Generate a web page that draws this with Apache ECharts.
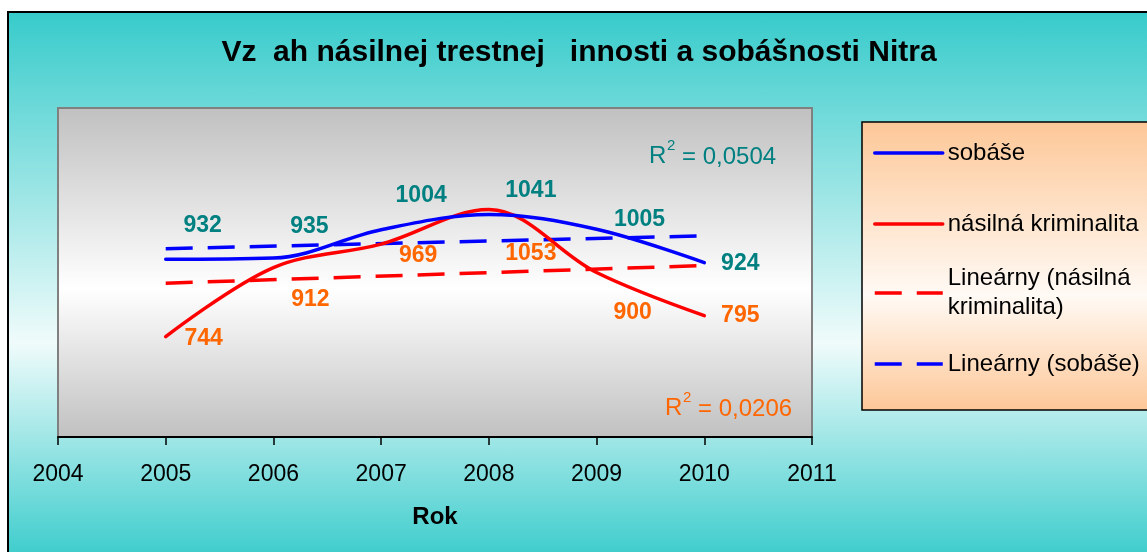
<!DOCTYPE html>
<html>
<head>
<meta charset="utf-8">
<script src="https://cdn.jsdelivr.net/npm/echarts@6/dist/echarts.min.js"></script>
<style>
html, body { margin: 0; padding: 0; background: #fff; }
#frame {
  position: absolute; left: 7px; top: 11px; width: 1150px; height: 550px;
  border-left: 2px solid #000; border-top: 2px solid #000;
  background: linear-gradient(to bottom, #38cbcb 0%, #f0fbfb 60%, #38cbcb 100%);
}
#main { position: absolute; left: 0; top: 0; width: 1147px; height: 552px; }
</style>
</head>
<body>
<div id="frame"></div>
<div id="main"></div>
<script>
// data
var years = [2005, 2006, 2007, 2008, 2009, 2010];
var sobase = [932, 935, 1004, 1041, 1005, 924];
var kriminalita = [744, 912, 969, 1053, 900, 795];
// linear trend endpoints (Excel trendlines)
var trendYears = [2005, 2010];
var trendSobase = [958, 989];
var trendKriminalita = [874, 917];
var yearTicks = [2004, 2005, 2006, 2007, 2008, 2009, 2010, 2011];
var r2Sobase = '0,0504';
var r2Kriminalita = '0,0206';

var FONT = '"Liberation Sans", Arial, sans-serif';
var TEAL = '#008080', ORANGE = '#ff6600';

// label offsets like the moved labels in the original
var offSobase = [[37, -34], [36, -31], [40, -34], [42, -24], [43, -10], [36, 1]];
var offKrim = [[38, 2], [37, 32], [37, 12], [42, 44], [36, 40], [36, 0]];

function pts(xs, ys, offs) {
  return xs.map(function (x, i) {
    var d = { value: [x, ys[i]] };
    if (offs) d.label = { offset: offs[i] };
    return d;
  });
}

function grad(c1, c2, mid) {
  return {
    type: 'linear', x: 0, y: 0, x2: 0, y2: 1,
    colorStops: [{ offset: 0, color: c1 }, { offset: mid, color: c2 }, { offset: 1, color: c1 }]
  };
}

var legendBase = {
  orient: 'vertical', left: 873, padding: 0, itemWidth: 68, itemHeight: 14,
  selectedMode: false, itemStyle: { opacity: 0 },
  lineStyle: { width: 3.5 },
  textStyle: { fontSize: 24, color: '#000', fontFamily: FONT, lineHeight: 28 }
};
function leg(name, top, extra) {
  return Object.assign({}, legendBase, { data: [name], top: top }, extra || {});
}

var myChart = echarts.init(document.getElementById('main'));
myChart.setOption({
  animation: false,
  backgroundColor: 'transparent',
  grid: {
    left: 58, right: 335, top: 108, bottom: 115,
    show: true,
    backgroundColor: grad('#c0c0c0', '#ffffff', 0.55),
    borderColor: '#808080', borderWidth: 2
  },
  xAxis: {
    type: 'value',
    min: yearTicks[0], max: yearTicks[yearTicks.length - 1], interval: 1,
    splitLine: { show: false },
    axisLine: { lineStyle: { color: '#000', width: 2 } },
    axisTick: { length: 8, lineStyle: { color: '#000', width: 1.5 } },
    axisLabel: { fontSize: 23, color: '#000', fontFamily: FONT, margin: 26,
      formatter: function (v) { return String(v); } },
    name: 'Rok', nameLocation: 'middle', nameGap: 68,
    nameTextStyle: { fontSize: 24, fontWeight: 'bold', color: '#000', fontFamily: FONT }
  },
  yAxis: { type: 'value', min: 500, max: 1300, show: false },
  legend: [
    leg('sobáše', 153 - 14),
    leg('násilná kriminalita', 224 - 14),
    leg('Lineárny (násilná kriminalita)', 293 - 43.5, {
      formatter: function () { return 'Lineárny (násilná\nkriminalita)'; },
      textStyle: { fontSize: 24, color: '#000', fontFamily: FONT, lineHeight: 29, padding: [29, 0, 0, 0] }
    }),
    leg('Lineárny (sobáše)', 364 - 14)
  ],
  graphic: [
    { type: 'rect', z: 0, shape: { x: 862, y: 122, width: 300, height: 288 },
      style: { fill: grad('#fdc797', '#fffaf5', 0.6), stroke: '#000', lineWidth: 1.5 } },
    { type: 'text', style: { text: 'Vz  ah násilnej trestnej   innosti a sobášnosti Nitra',
      x: 579, y: 53, align: 'center', verticalAlign: 'middle', fill: '#000',
      font: 'bold 30px ' + FONT } },
    { type: 'text', style: { text: 'R', x: 649, y: 156, verticalAlign: 'middle', fill: TEAL, font: '24px ' + FONT } },
    { type: 'text', style: { text: '2', x: 667, y: 146, verticalAlign: 'middle', fill: TEAL, font: '15px ' + FONT } },
    { type: 'text', style: { text: '= ' + r2Sobase, x: 682, y: 157, verticalAlign: 'middle', fill: TEAL, font: '24px ' + FONT } },
    { type: 'text', style: { text: 'R', x: 665, y: 408, verticalAlign: 'middle', fill: ORANGE, font: '24px ' + FONT } },
    { type: 'text', style: { text: '2', x: 683, y: 398, verticalAlign: 'middle', fill: ORANGE, font: '15px ' + FONT } },
    { type: 'text', style: { text: '= ' + r2Kriminalita, x: 698, y: 409, verticalAlign: 'middle', fill: ORANGE, font: '24px ' + FONT } }
  ],
  series: [
    {
      name: 'Lineárny (násilná kriminalita)', type: 'line', symbol: 'none',
      data: pts(trendYears, trendKriminalita),
      lineStyle: { color: '#ff0000', width: 3.5, type: [27, 15] },
      itemStyle: { color: '#ff0000' }
    },
    {
      name: 'Lineárny (sobáše)', type: 'line', symbol: 'none',
      data: pts(trendYears, trendSobase),
      lineStyle: { color: '#0000ff', width: 3.5, type: [27, 15] },
      itemStyle: { color: '#0000ff' }
    },
    {
      name: 'násilná kriminalita', type: 'line', smooth: 0.35,
      symbol: 'circle', symbolSize: 0, showSymbol: true,
      data: pts(years, kriminalita, offKrim),
      lineStyle: { color: '#ff0000', width: 3.5, cap: 'round' },
      itemStyle: { color: '#ff0000' },
      label: { show: true, position: 'inside', color: ORANGE, fontSize: 23, fontWeight: 'bold', fontFamily: FONT,
        formatter: function (p) { return p.value[1]; } }
    },
    {
      name: 'sobáše', type: 'line', smooth: 0.35,
      symbol: 'circle', symbolSize: 0, showSymbol: true,
      data: pts(years, sobase, offSobase),
      lineStyle: { color: '#0000ff', width: 3.5, cap: 'round' },
      itemStyle: { color: '#0000ff' },
      label: { show: true, position: 'inside', color: TEAL, fontSize: 23, fontWeight: 'bold', fontFamily: FONT,
        formatter: function (p) { return p.value[1]; } }
    }
  ]
});
</script>
</body>
</html>
